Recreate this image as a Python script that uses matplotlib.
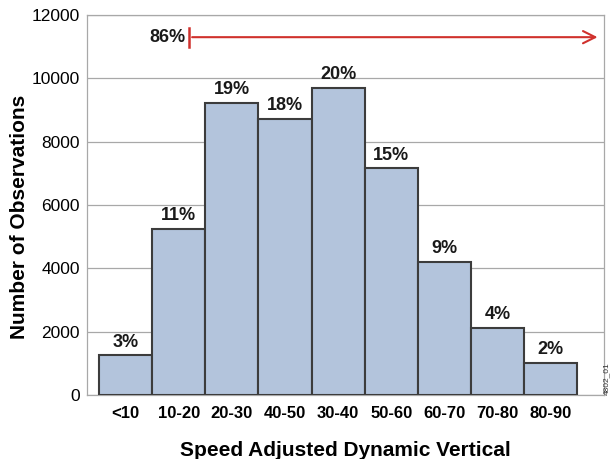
import matplotlib.pyplot as plt

plt.rcParams['font.family'] = ['Liberation Sans', 'DejaVu Sans']

categories = ["<10", "10-20", "20-30", "40-50", "30-40", "50-60", "60-70", "70-80", "80-90"]
counts = [1250, 5250, 9220, 8720, 9700, 7160, 4200, 2110, 1010]
pct_labels = ["3%", "11%", "19%", "18%", "20%", "15%", "9%", "4%", "2%"]
arrow_label = "86%"

fig = plt.figure(figsize=(6.11, 4.59), dpi=100)
ax = fig.add_axes([0.1424, 0.1394, 0.8462, 0.8279])

x = list(range(len(categories)))
ax.bar(x, counts, width=1.0, color="#b3c4dc", edgecolor="#3c3c3c", linewidth=1.5, zorder=3)

for xi, c, lab in zip(x, counts, pct_labels):
    ax.text(xi, c + 150, lab, ha="center", va="bottom", fontsize=13, fontweight="bold", color="#1a1a1a", zorder=4)

# 86% arrow
ax.annotate("", xy=(8.93, 11300), xytext=(1.2, 11300),
            arrowprops=dict(arrowstyle="->", color="#d0312d", lw=1.5, mutation_scale=22), zorder=4)
ax.plot([1.2, 1.2], [11000, 11600], color="#d0312d", lw=1.8, zorder=4)
ax.text(1.12, 11300, arrow_label, ha="right", va="center", fontsize=13, fontweight="bold", color="#1a1a1a")

ax.set_xlim(-0.725, 9.0)
ax.set_ylim(0, 12000)
ax.set_yticks(range(0, 12001, 2000))
ax.set_xticks(x)
ax.set_xticklabels(categories, fontsize=12, fontweight="bold")
ax.tick_params(axis="y", labelsize=12.5, length=0, pad=5)
ax.tick_params(axis="x", length=0, pad=8)
ax.grid(axis="y", color="#a8a8a8", lw=0.9, zorder=0)
for s in ax.spines.values():
    s.set_color("#a8a8a8")
    s.set_linewidth(0.9)

ax.set_xlabel("Speed Adjusted Dynamic Vertical", fontsize=15, fontweight="bold", labelpad=14)
ax.set_ylabel("Number of Observations", fontsize=15, fontweight="bold")
ax.yaxis.set_label_coords(-0.113, 0.47)

fig.text(0.9925, 0.14, "4802_01", rotation=90, fontsize=6, ha="center", va="bottom", color="#333333")

fig.savefig("out.png", dpi=100)
